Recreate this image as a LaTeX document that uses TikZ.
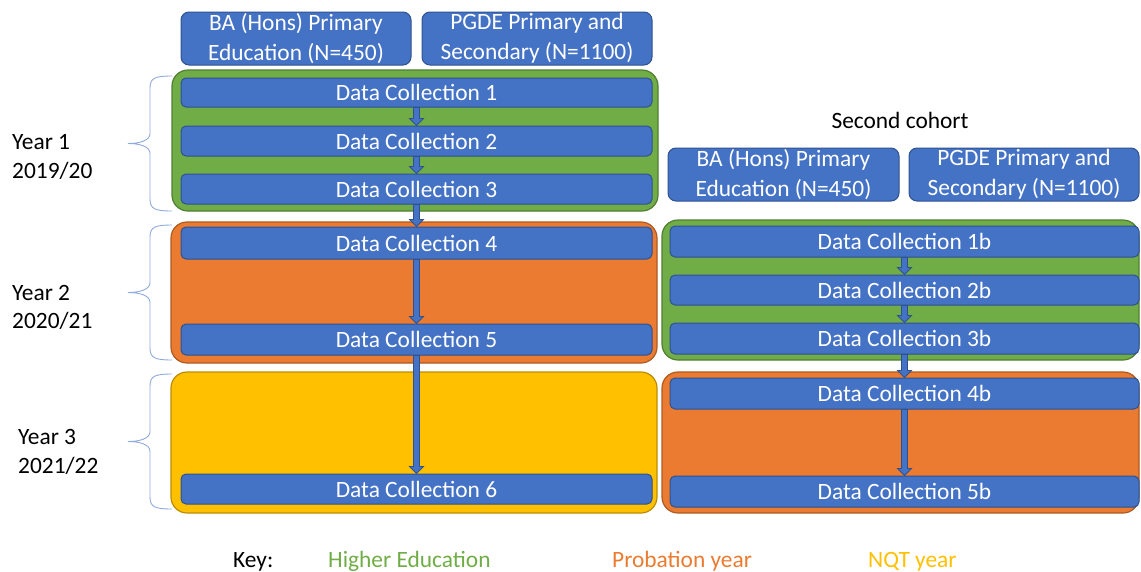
\documentclass[tikz,border=0pt]{standalone}
\usepackage{fontspec}
\setmainfont{Carlito}
\usetikzlibrary{calc}
\definecolor{bfill}{HTML}{4472C4}
\definecolor{bdraw}{HTML}{2F528F}
\definecolor{gfill}{HTML}{70AD47}
\definecolor{gdraw}{HTML}{507E32}
\definecolor{ofill}{HTML}{EA7B30}
\definecolor{odraw}{HTML}{AE5A21}
\definecolor{yfill}{HTML}{FFC000}
\definecolor{ydraw}{HTML}{BC8C00}
\definecolor{bracecol}{HTML}{8FAADC}
\newcommand\blkarrow[3][7]{%
  \draw[blockarrow] let \p1=(#2.south), \p2=(#3.north) in
  (\x1-3pt,\y1) -- (\x1-3pt,\y2+#1pt) -- (\x1-7pt,\y2+#1pt) -- (\x1,\y2)
  -- (\x1+7pt,\y2+#1pt) -- (\x1+3pt,\y2+#1pt) -- (\x1+3pt,\y1) -- cycle;}
% brace from top coordinate #1 to bottom coordinate #2, pointing left
\newcommand\yrbrace[2]{%
  \draw[yearbrace] let \p1=(#1), \p2=(#2), \n1={0.5*(\y1+\y2)} in
  (\x1,\y1) .. controls (\x1-17pt,\y1) and (\x1-22pt,\y1-2pt) .. (\x1-22pt,\y1-12pt)
  -- (\x1-22pt,\n1+10pt) .. controls (\x1-22pt,\n1+3pt) and (\x1-32pt,\n1) .. (\x1-44pt,\n1)
  .. controls (\x1-32pt,\n1) and (\x1-22pt,\n1-3pt) .. (\x1-22pt,\n1-10pt)
  -- (\x1-22pt,\y2+12pt) .. controls (\x1-22pt,\y2+2pt) and (\x1-17pt,\y2) .. (\x2,\y2);}
\tikzset{
  txt/.style={font=\fontsize{23.4}{28.5}\selectfont},
  dcbox/.style={txt, draw=bdraw, fill=bfill, text=white, rounded corners=5pt,
    line width=1pt, inner sep=0pt, minimum width=471pt, minimum height=30pt},
  dcboxr/.style={dcbox, minimum width=469pt},
  topbox/.style={font=\fontsize{23.4}{29.5}\selectfont, draw=bdraw, fill=bfill,
    text=white, rounded corners=8pt, line width=1pt, inner sep=0pt,
    minimum width=230pt, minimum height=53pt, align=center},
  container/.style={rounded corners=16pt, line width=1.2pt, inner sep=0pt},
  gbox/.style={container, draw=gdraw, fill=gfill},
  obox/.style={container, draw=odraw, fill=ofill},
  ybox/.style={container, draw=ydraw, fill=yfill},
  blockarrow/.style={draw=bdraw, fill=bfill, line width=0.8pt},
  yearbrace/.style={draw=bracecol, line width=0.9pt},
  yearlabel/.style={txt, align=left, anchor=west, inner sep=0pt},
  keylabel/.style={txt, anchor=base west, inner sep=0pt}
}
\begin{document}
\begin{tikzpicture}[x=1pt, y=-1pt]
\useasboundingbox (0,0) rectangle (1141,571);
% containers
\node[gbox, minimum width=486pt, minimum height=141pt] (g1) at (415,140.5) {};
\node[obox, minimum width=486pt, minimum height=141pt] (o1) at (414,292.5) {};
\node[ybox, minimum width=486pt, minimum height=141pt] (y1) at (414,442.5) {};
\node[gbox, minimum width=477pt, minimum height=140pt] (g2) at (900.5,290) {};
\node[obox, minimum width=477pt, minimum height=141pt] (o2) at (900.5,442.5) {};
% top boxes
\node[topbox] (ba1) at (296,38.5) {BA (Hons) Primary\\Education (N=450)};
\node[topbox] (pg1) at (537,38.5) {PGDE Primary and\\Secondary (N=1100)};
\node[txt, anchor=base, inner sep=0pt] (sc) at (900,128) {Second cohort};
\node[topbox, minimum width=231pt] (ba2) at (783.5,174.5) {BA (Hons) Primary\\Education (N=450)};
\node[topbox] (pg2) at (1024,174.5) {PGDE Primary and\\Secondary (N=1100)};
% data collection boxes, first cohort
\node[dcbox, minimum height=29pt] (d1) at (416.5,92.5) {Data Collection 1};
\node[dcbox] (d2) at (416.5,141) {Data Collection 2};
\node[dcbox] (d3) at (416.5,189) {Data Collection 3};
\node[dcbox, minimum height=32pt] (d4) at (416.5,243) {Data Collection 4};
\node[dcbox, minimum height=31pt] (d5) at (416.5,339.5) {Data Collection 5};
\node[dcbox] (d6) at (416.5,489) {Data Collection 6};
% second cohort
\node[dcboxr, minimum height=31pt] (e1) at (904.5,241.5) {Data Collection 1b};
\node[dcboxr] (e2) at (904.5,290) {Data Collection 2b};
\node[dcboxr, minimum height=31pt] (e3) at (904.5,338.5) {Data Collection 3b};
\node[dcboxr, minimum height=31pt] (e4) at (904.5,393.5) {Data Collection 4b};
\node[dcboxr, minimum height=31pt] (e5) at (904.5,491.5) {Data Collection 5b};
% arrows
\blkarrow{d1}{d2}
\blkarrow{d2}{d3}
\blkarrow{d3}{d4}
\blkarrow{d4}{d5}
\blkarrow{d5}{d6}
\blkarrow{e1}{e2}
\blkarrow{e2}{e3}
\blkarrow{e3}{e4}
\blkarrow{e4}{e5}
% braces
\coordinate (b1t) at (172,76);
\coordinate (b1b) at (172,211);
\coordinate (b2t) at (172,225);
\coordinate (b2b) at (172,360);
\coordinate (b3t) at (172,374);
\coordinate (b3b) at (172,509);
\yrbrace{b1t}{b1b}
\yrbrace{b2t}{b2b}
\yrbrace{b3t}{b3b}
% year labels
\node[yearlabel] (yl1) at (12,157) {Year 1\\2019/20};
\node[yearlabel] (yl2) at (12,307.5) {Year 2\\2020/21};
\node[yearlabel] (yl3) at (18,452) {Year 3\\2021/22};
% key
\node[keylabel] (k0) at (233,567) {Key:};
\node[keylabel, text=gfill] (k1) at (328,567) {Higher Education};
\node[keylabel, text=ofill] (k2) at (612,567) {Probation year};
\node[keylabel, text=yfill] (k3) at (868,567) {NQT year};
\end{tikzpicture}
\end{document}
